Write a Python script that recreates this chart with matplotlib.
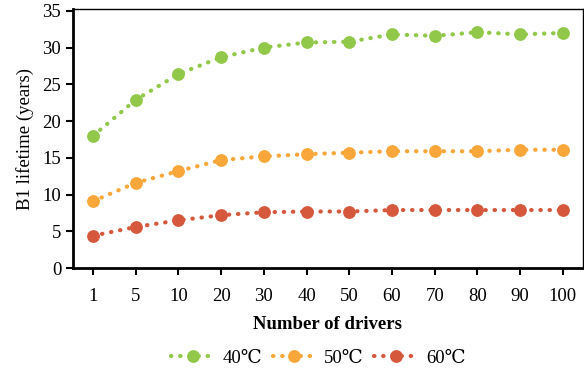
import numpy as np
import matplotlib
matplotlib.use('Agg')
import matplotlib.pyplot as plt

plt.rcParams['font.family'] = ['Liberation Serif', 'DejaVu Serif']

#  Chart data
drivers = ['1', '5', '10', '20', '30', '40', '50', '60', '70', '80', '90', '100']
life_40 = [18.0, 22.9, 26.4, 28.7, 30.0, 30.7, 30.8, 31.8, 31.6, 32.1, 31.8, 32.0]
life_50 = [9.1, 11.6, 13.2, 14.7, 15.2, 15.5, 15.7, 15.9, 15.9, 15.9, 16.1, 16.1]
life_60 = [4.4, 5.6, 6.5, 7.2, 7.6, 7.7, 7.7, 7.9, 7.9, 7.9, 7.9, 7.9]
labels = ['40\u2103', '50\u2103', '60\u2103']
colors = ['#92c84a', '#f9a73a', '#d5583c']

fig = plt.figure(figsize=(5.84, 3.76), dpi=100)
ax = fig.add_axes([0.125, 0.287, 0.873, 0.688])

x = np.arange(len(drivers))
for y, lab, c in zip([life_40, life_50, life_60], labels, colors):
    ax.plot(x, y, color=c, lw=3.0, linestyle=(0, (0.1, 2.1)),
            dash_capstyle='round', marker='o', ms=8.2, mec=c, mfc=c,
            label=lab)

ax.set_xlim(-0.47, 11.47)
ax.set_ylim(0, 35.2)
ax.set_xticks(x)
ax.set_xticklabels(drivers)
ax.set_yticks(np.arange(0, 36, 5))
ax.tick_params(axis='both', labelsize=13.5, direction='out', length=5, width=1.5)
ax.tick_params(axis='x', pad=9)

for side in ['left', 'bottom']:
    ax.spines[side].set_linewidth(2.0)
for side in ['top', 'right']:
    ax.spines[side].set_linewidth(1.0)

ax.set_xlabel('Number of drivers', fontsize=13.5, fontweight='bold', labelpad=8)
ax.set_ylabel('B1 lifetime (years)', fontsize=13.5, labelpad=6)

fig.legend(loc='center', bbox_to_anchor=(0.545, 0.048), ncol=3, frameon=False,
           fontsize=13.5, handlelength=2.3, columnspacing=0.55, handletextpad=0.45)

fig.savefig('out.png', dpi=100)
